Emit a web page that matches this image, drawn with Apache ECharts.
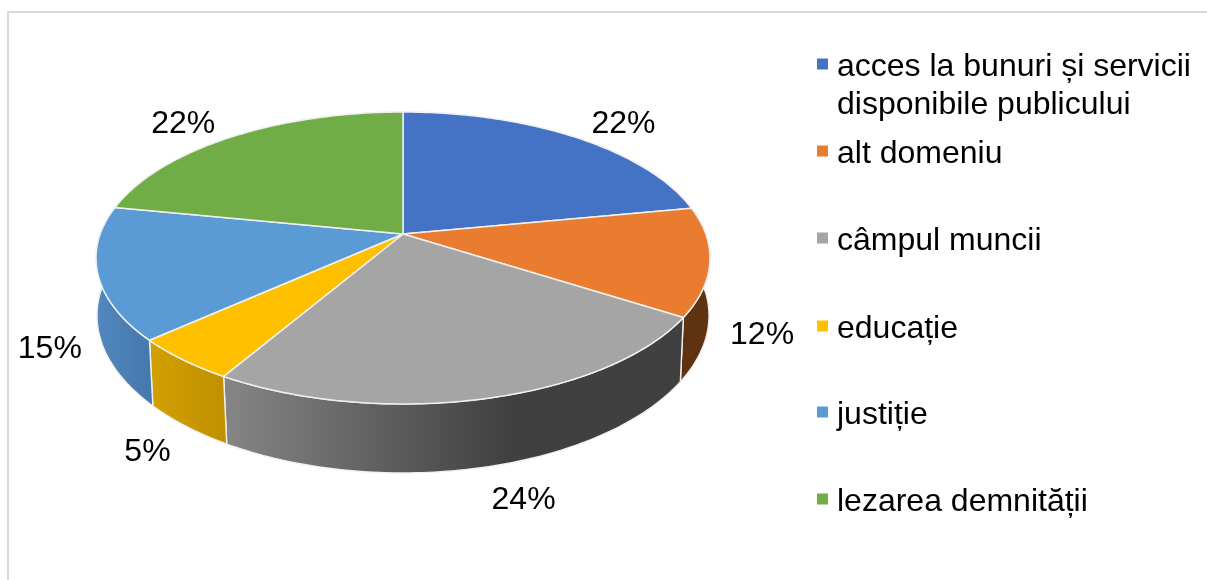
<!DOCTYPE html>
<html>
<head>
<meta charset="utf-8">
<style>html,body{margin:0;padding:0;background:#fff}#c{width:1207px;height:580px}</style>
<script src="https://cdn.jsdelivr.net/npm/echarts@6/dist/echarts.min.js"></script>
</head>
<body>
<div id="c"></div>
<script>
// Data
const categories = ['acces la bunuri și servicii\ndisponibile publicului', 'alt domeniu', 'câmpul muncii', 'educație', 'justiție', 'lezarea demnității'];
const values = [22.0, 12.0, 24.49, 4.9, 14.7, 21.91];
const topColors = ['#4472C4', '#EA7C30', '#A5A5A5', '#FFC000', '#5B9BD5', '#70AD47'];
const sideFrom = ['#2F5597', '#5F3312', '#868686', '#D2A000', '#5288BE', '#4E7A32'];
const sideTo = ['#2F5597', '#5F3312', '#404040', '#BF9000', '#4478AC', '#4E7A32'];
// Layout
const legendCentres = [67, 154, 241, 329, 415, 502];
const labelNudgeX = [20, 0, 22, 2, 4, -20];
const labelNudgeY = [4, 1, 6, 3, 1, 4];
const FONT = '"Liberation Sans", Arial, sans-serif';
const FS = 32, LH = 38;
const CX = 403, CY = 234, A = 142, B = 302.8, K = 0.1644;

const total = values.reduce((a, b) => a + b, 0);
let cum = 0;
const spans = values.map(v => { const s = cum; cum += v; return [s / total * 360, cum / total * 360]; });

function project(deg) {
  const r = deg * Math.PI / 180, X = Math.sin(r), Y = -Math.cos(r), w = 1 - K * Y;
  return { x: CX + B * X / w, y: CY + A * Y / w, Y: Y };
}
function lower(p) { return { x: CX + (p.x - CX) * (1 - 0.02 * Math.max(p.Y, 0)), y: p.y + 59 + 10 * p.Y }; }
function arc(a0, a1) {
  const pts = [], n = Math.max(2, Math.ceil(a1 - a0));
  for (let i = 0; i <= n; i++) pts.push(project(a0 + (a1 - a0) * i / n));
  return pts;
}

function makeRenderer(i) {
  return function (params, api) {
    const a0 = api.value(0), a1 = api.value(1), pct = api.value(2);
    const top = arc(a0, a1);
    const topPts = [[CX, CY]].concat(top.map(p => [p.x, p.y]));
    const sidePts = top.map(p => [p.x, p.y]).concat(top.slice().reverse().map(p => { const q = lower(p); return [q.x, q.y]; }));
    const mid = project((a0 + a1) / 2);
    const lx = CX + (mid.x - CX) * 1.17 + labelNudgeX[i];
    const ly = CY + (mid.y - CY) * 1.17 + (mid.Y > 0 ? 68 : 0) + labelNudgeY[i];
    return {
      type: 'group',
      children: [
        { type: 'polygon', z2: mid.Y > 0 ? 2 : 1, shape: { points: sidePts },
          style: { fill: { type: 'linear', x: 0, y: 0, x2: 1, y2: 0,
              colorStops: i === 2
                ? [{ offset: 0, color: sideFrom[i] }, { offset: 0.62, color: sideTo[i] }, { offset: 1, color: sideTo[i] }]
                : [{ offset: 0, color: sideFrom[i] }, { offset: 1, color: sideTo[i] }] },
            stroke: '#F0F0F0', lineWidth: 1.4, lineJoin: 'round' } },
        { type: 'polygon', z2: 5, shape: { points: topPts },
          style: { fill: topColors[i], stroke: '#F0F0F0', lineWidth: 1.5, lineJoin: 'round' } },
        { type: 'text', z2: 8, style: { text: Math.round(pct) + '%', x: lx, y: ly, align: 'center', verticalAlign: 'middle',
            fontFamily: FONT, fontSize: FS, fill: '#000' } }
      ]
    };
  };
}

const chart = echarts.init(document.getElementById('c'), null, { renderer: 'canvas' });
chart.setOption({
  animation: false,
  backgroundColor: '#fff',
  graphic: [
    { type: 'polyline', silent: true, shape: { points: [[8, 600], [8, 12], [1230, 12]] },
      style: { stroke: '#D9D9D9', lineWidth: 2, fill: null } }
  ],
  legend: categories.map((c, i) => ({
    data: [c], left: 817, top: legendCentres[i] - (c.includes('\n') ? 1.5 : 0.5) * LH,
    orient: 'vertical', padding: 0, icon: 'path://M0 0H11V11H0Z M0 17Z', itemWidth: 11, itemHeight: 17, selectedMode: false,
    formatter: n => (n.includes('\n') ? '\n' : '') + n,
    textStyle: { fontFamily: FONT, fontSize: FS, color: '#000', lineHeight: LH, padding: [0, 0, 0, 4] }
  })),
  series: categories.map((c, i) => ({
    type: 'custom', name: c, coordinateSystem: 'none',
    itemStyle: { color: topColors[i] },
    data: [[spans[i][0], spans[i][1], values[i]]],
    renderItem: makeRenderer(i)
  }))
});
</script>
</body>
</html>
